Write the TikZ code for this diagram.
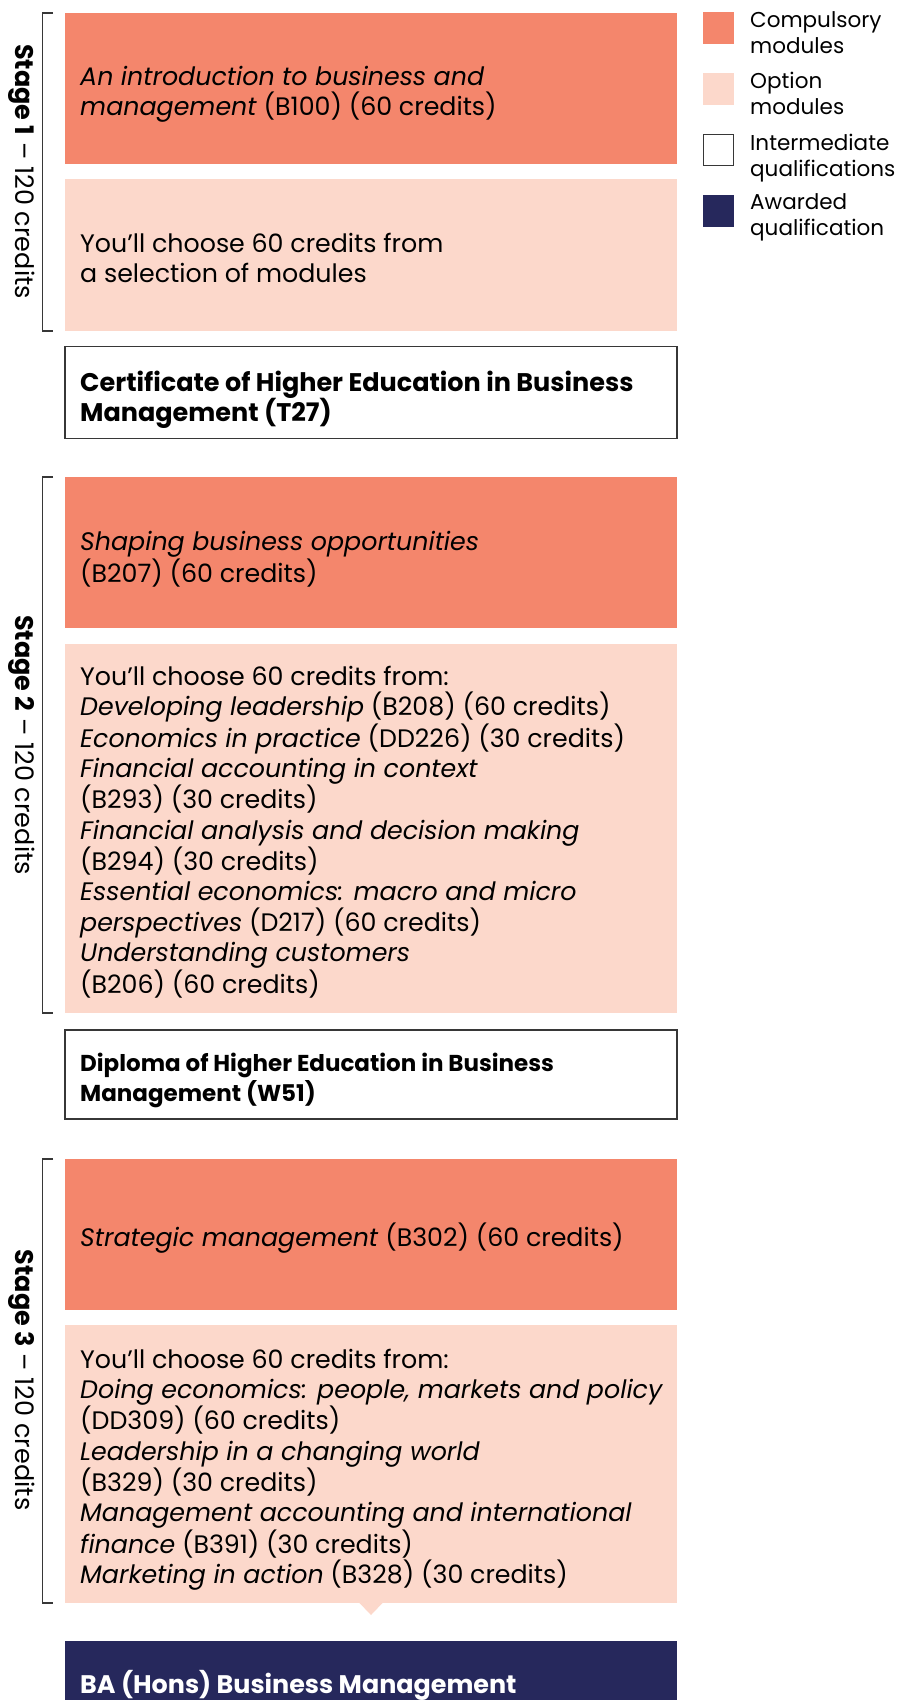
\documentclass[tikz,border=0pt]{standalone}
\usepackage{fontspec}
\setmainfont{Poppins}
\definecolor{compcol}{RGB}{244,134,108}
\definecolor{optcol}{RGB}{252,216,203}
\definecolor{navycol}{RGB}{38,40,92}
\definecolor{linecol}{RGB}{55,55,55}
\begin{document}
\begin{tikzpicture}[x=1pt,y=-1pt,
  box/.style={anchor=north west, minimum width=612pt, inner sep=0pt, outer sep=0pt},
  compbox/.style={box, fill=compcol},
  optbox/.style={box, fill=optcol},
  qualbox/.style={box, draw=linecol, line width=1.4pt, fill=white},
  awardbox/.style={box, fill=navycol},
  txt/.style={anchor=base west, inner sep=0pt, align=left, font=\fontsize{25.3}{30.3}\selectfont},
  boldtxt/.style={anchor=base west, inner sep=0pt, align=left, font=\fontsize{25.5}{30.5}\selectfont\bfseries},
  awardtxt/.style={anchor=base west, inner sep=0pt, align=left, text=white, font=\fontsize{25.4}{30}\selectfont\bfseries},
  stagetxt/.style={anchor=base, inner sep=0pt, rotate=-90, font=\fontsize{25.5}{30}\selectfont},
  legsq/.style={anchor=north west, minimum width=31pt, minimum height=32pt, inner sep=0pt, outer sep=0pt},
  legtxt/.style={anchor=base west, inner sep=0pt, align=left, font=\fontsize{21.5}{26}\selectfont},
  bracket/.style={draw=linecol, line width=1.4pt}
]
\useasboundingbox (0,0) rectangle (897,1700);

% ---------- Stage 1 ----------
\node[compbox, minimum height=151pt] (c1) at (65,13) {};
\node[txt] (t1) at (80,115.3) {\textit{An introduction to business and}\\\textit{management} (B100) (60 credits)};
\node[optbox, minimum height=152pt] (o1) at (65,179) {};
\node[txt] (t2) at (80,282.5) {You’ll choose 60 credits from\\a selection of modules};
\node[qualbox, minimum height=92pt] (q1) at (65,346.5) {};
\node[boldtxt] (t3) at (80,421.7) {Certificate of Higher Education in Business\\Management (T27)};

% ---------- Stage 2 ----------
\node[compbox, minimum height=151pt] (c2) at (65,477) {};
\node[txt] (t4) at (80,582) {\textit{Shaping business opportunities}\\(B207) (60 credits)};
\node[optbox, minimum height=369pt] (o2) at (65,644) {};
\node[txt] (t5) at (80,993) {You’ll choose 60 credits from:\\
\textit{Developing leadership} (B208) (60 credits)\\
\textit{Economics in practice} (DD226) (30 credits)\\
\textit{Financial accounting in context}\\
(B293) (30 credits)\\
\textit{Financial analysis and decision making}\\
(B294) (30 credits)\\
\textit{Essential economics: macro and micro}\\
\textit{perspectives} (D217) (60 credits)\\
\textit{Understanding customers}\\
(B206) (60 credits)};
\node[qualbox, minimum height=89pt] (q2) at (65,1030) {};
\node[boldtxt, font=\fontsize{23}{30}\selectfont\bfseries] (t6) at (80,1101.7) {Diploma of Higher Education in Business\\Management (W51)};

% ---------- Stage 3 ----------
\node[compbox, minimum height=151pt] (c3) at (65,1159) {};
\node[txt] (t7) at (80,1246) {\textit{Strategic management} (B302) (60 credits)};
\node[optbox, minimum height=278pt] (o3) at (65,1325) {};
\node[txt] (t8) at (80,1583.7) {You’ll choose 60 credits from:\\
\textit{Doing economics: people, markets and policy}\\
(DD309) (60 credits)\\
\textit{Leadership in a changing world}\\
(B329) (30 credits)\\
\textit{Management accounting and international}\\
\textit{finance} (B391) (30 credits)\\
\textit{Marketing in action} (B328) (30 credits)};
\fill[optcol] (o3.south) ++(-12,-0.5) -- ++(24,0) -- ++(-12,12.5) -- cycle;

\node[awardbox, minimum height=80pt] (aw) at (65,1641) {};
\node[awardtxt] (t9) at (80,1693) {BA (Hons) Business Management};

% ---------- Brackets and stage labels ----------
\draw[bracket] (53,13) -- (42.7,13) -- (42.7,331) -- (53,331);
\node[stagetxt] (s1) at (15,171.5) {\textbf{Stage 1} – 120 credits};
\draw[bracket] (53,477) -- (42.7,477) -- (42.7,1013) -- (53,1013);
\node[stagetxt] (s2) at (15,745) {\textbf{Stage 2} – 120 credits};
\draw[bracket] (53,1159) -- (42.7,1159) -- (42.7,1603) -- (53,1603);
\node[stagetxt] (s3) at (15,1380) {\textbf{Stage 3} – 120 credits};

% ---------- Legend ----------
\node[legsq, fill=compcol] (l1) at (703,12) {};
\node[legtxt] (lt1) at (750,53) {Compulsory\\modules};
\node[legsq, fill=optcol] (l2) at (703,73) {};
\node[legtxt] (lt2) at (750,114) {Option\\modules};
\node[legsq, draw=linecol, line width=1.4pt, minimum width=30pt, minimum height=31pt] (l3) at (703.7,134.7) {};
\node[legtxt] (lt3) at (750,176) {Intermediate\\qualifications};
\node[legsq, fill=navycol] (l4) at (703,195) {};
\node[legtxt] (lt4) at (750,235) {Awarded\\qualification};
\end{tikzpicture}
\end{document}
